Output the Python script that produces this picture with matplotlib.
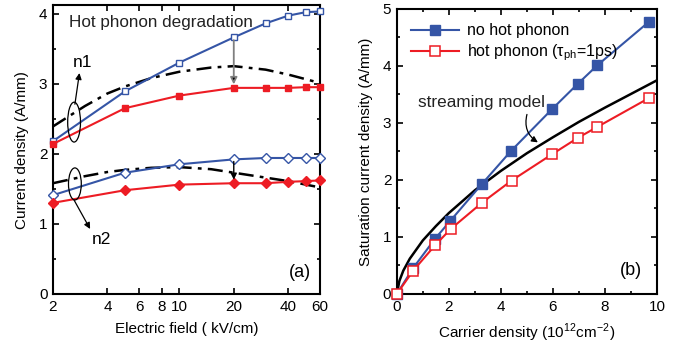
import matplotlib
matplotlib.use("Agg")
import matplotlib.pyplot as plt
from matplotlib.patches import Ellipse
from matplotlib.ticker import FixedLocator, NullLocator, MultipleLocator

plt.rcParams['font.family'] = ['Liberation Sans', 'DejaVu Sans']
plt.rcParams['mathtext.fontset'] = 'custom'
plt.rcParams['mathtext.rm'] = 'Liberation Sans'

BLUE = '#3555a6'
RED = '#ed1c24'

# ---------------- panel (a) data ----------------
E = [2, 5, 10, 20, 30, 40, 50, 60]
n1_nohp = [2.18, 2.89, 3.30, 3.66, 3.86, 3.97, 4.02, 4.03]
n1_hp = [2.14, 2.65, 2.83, 2.94, 2.94, 2.94, 2.95, 2.95]
n2_nohp = [1.41, 1.73, 1.85, 1.92, 1.94, 1.94, 1.94, 1.94]
n2_hp = [1.30, 1.48, 1.56, 1.58, 1.58, 1.60, 1.61, 1.62]
E_model = [2, 3, 4, 5, 7, 10, 15, 20, 30, 40, 60]
n1_model = [2.39, 2.68, 2.86, 2.96, 3.08, 3.17, 3.23, 3.25, 3.20, 3.13, 3.01]
n2_model = [1.58, 1.68, 1.74, 1.77, 1.80, 1.81, 1.78, 1.73, 1.66, 1.61, 1.52]
xticks_a = [2, 4, 6, 8, 10, 20, 40, 60]

# ---------------- panel (b) data ----------------
ns_nohp = [0, 0.62, 1.47, 2.05, 3.27, 4.39, 5.98, 6.96, 7.70, 9.70]
J_nohp = [0, 0.45, 0.97, 1.28, 1.93, 2.51, 3.25, 3.69, 4.01, 4.78]
ns_hp = [0, 0.63, 1.48, 2.07, 3.27, 4.41, 5.96, 6.96, 7.70, 9.70]
J_hp = [0, 0.41, 0.86, 1.14, 1.60, 1.99, 2.45, 2.74, 2.93, 3.44]
ns_stream = [0, 0.1, 0.25, 0.5, 1, 1.5, 2, 3, 4, 5, 6, 7, 8, 9, 10]
J_stream = [0, 0.23, 0.41, 0.62, 0.94, 1.19, 1.42, 1.82, 2.16, 2.47, 2.75, 3.02, 3.27, 3.51, 3.75]

fig = plt.figure(figsize=(6.76, 3.48), dpi=100)
axa = fig.add_axes([0.0784, 0.1552, 0.395, 0.830])
axb = fig.add_axes([0.587, 0.1552, 0.385, 0.819])

def style(ax):
    for s in ax.spines.values():
        s.set_linewidth(1.5)
    ax.tick_params(which='both', direction='in', top=True, right=True,
                   labelsize=11, width=1.2)
    ax.tick_params(which='major', length=4, pad=4)
    ax.tick_params(which='minor', length=2.5)

# ---- panel (a) ----
dd = (0, (6, 2.5, 1.5, 2.5))
axa.plot(E_model, n1_model, color='black', lw=1.8, ls=dd, zorder=2)
axa.plot(E_model, n2_model, color='black', lw=1.8, ls=dd, zorder=2)
axa.plot(E, n1_nohp, color=BLUE, lw=1.5, marker='s', ms=5, mfc='white', mec=BLUE, mew=1.0,
         zorder=3, clip_on=False)
axa.plot(E, n1_hp, color=RED, lw=1.5, marker='s', ms=5, mfc=RED, mec=RED, zorder=3, clip_on=False)
axa.plot(E, n2_nohp, color=BLUE, lw=1.5, marker='D', ms=4.6, mfc='white', mec=BLUE, mew=1.0,
         zorder=3, clip_on=False)
axa.plot(E, n2_hp, color=RED, lw=1.5, marker='D', ms=4.6, mfc=RED, mec=RED, zorder=3, clip_on=False)

axa.set_xscale('log')
axa.set_xlim(2, 60)
axa.set_ylim(0, 4.12)
axa.xaxis.set_major_locator(FixedLocator(xticks_a))
axa.xaxis.set_minor_locator(NullLocator())
axa.set_xticklabels([str(v) for v in xticks_a])
axa.yaxis.set_major_locator(MultipleLocator(1))
axa.yaxis.set_minor_locator(MultipleLocator(0.5))
style(axa)
axa.set_xlabel('Electric field ( kV/cm)', fontsize=11, labelpad=6)
axa.set_ylabel('Current density (A/mm)', fontsize=11, labelpad=7)

axa.text(0.06, 0.941, 'Hot phonon degradation', transform=axa.transAxes,
         fontsize=12.3, va='center', ha='left', color='#222222')
axa.text(0.925, 0.073, '(a)', transform=axa.transAxes, fontsize=13, ha='center', va='center')
axa.text(0.109, 0.80, 'n1', transform=axa.transAxes, fontsize=12.5, ha='center', va='center')
axa.text(0.18, 0.187, 'n2', transform=axa.transAxes, fontsize=12.5, ha='center', va='center')

axa.add_patch(Ellipse((0.079, 0.595), 0.048, 0.138, transform=axa.transAxes,
                      fill=False, ec='black', lw=0.9, zorder=4))
axa.add_patch(Ellipse((0.082, 0.381), 0.048, 0.111, transform=axa.transAxes,
                      fill=False, ec='black', lw=0.9, zorder=4))
axa.annotate('', xy=(0.099, 0.765), xytext=(0.082, 0.657),
             xycoords='axes fraction', textcoords='axes fraction',
             arrowprops=dict(arrowstyle='-|>', color='black', lw=0.9,
                             mutation_scale=9, shrinkA=0, shrinkB=0))
axa.annotate('', xy=(0.139, 0.225), xytext=(0.079, 0.325),
             xycoords='axes fraction', textcoords='axes fraction',
             arrowprops=dict(arrowstyle='-|>', color='black', lw=0.9,
                             mutation_scale=9, shrinkA=0, shrinkB=0))
# degradation arrows
axa.annotate('', xy=(20, 2.99), xytext=(20, 3.62),
             arrowprops=dict(arrowstyle='-|>', color='#7f7f7f', lw=1.3,
                             mutation_scale=10, shrinkA=0, shrinkB=0,
                             fc='black', ec='#7f7f7f'))
axa.annotate('', xy=(20, 1.63), xytext=(20, 1.89),
             arrowprops=dict(arrowstyle='-|>', color='black', lw=1.0,
                             mutation_scale=9, shrinkA=0, shrinkB=0))

# ---- panel (b) ----
axb.plot(ns_stream, J_stream, color='black', lw=1.8, zorder=2)
axb.plot(ns_nohp, J_nohp, color=BLUE, lw=1.5, marker='s', ms=6.5, mfc=BLUE, mec=BLUE,
         zorder=3, label='no hot phonon', clip_on=False)
axb.plot(ns_hp, J_hp, color=RED, lw=1.5, marker='s', ms=6.5, mfc='white', mec=RED, mew=1.1,
         zorder=4, label='hot phonon (τ$_\\mathregular{ph}$=1ps)', clip_on=False)
axb.set_xlim(0, 10)
axb.set_ylim(0, 5)
axb.xaxis.set_major_locator(MultipleLocator(2))
axb.xaxis.set_minor_locator(MultipleLocator(1))
axb.yaxis.set_major_locator(MultipleLocator(1))
axb.yaxis.set_minor_locator(MultipleLocator(0.5))
style(axb)
axb.set_xlabel('Carrier density (10$^\\mathregular{12}$cm$^\\mathregular{-2}$)', fontsize=11, labelpad=6)
axb.set_ylabel('Saturation current density (A/mm)', fontsize=11, labelpad=7)
leg = axb.legend(loc='upper left', bbox_to_anchor=(0.0, 1.0), frameon=False,
                 fontsize=11.5, handlelength=3.0, handletextpad=0.5,
                 borderaxespad=0.4, labelspacing=0.25, borderpad=0.5)
axb.text(0.8, 3.36, 'streaming model', fontsize=12.3, ha='left', va='center', color='#222222')
axb.annotate('', xy=(5.42, 2.66), xytext=(5.0, 3.15),
             arrowprops=dict(arrowstyle='-|>', color='black', lw=0.9,
                             mutation_scale=9, shrinkA=0, shrinkB=0,
                             connectionstyle='arc3,rad=0.35'))
axb.text(9.0, 0.42, '(b)', fontsize=13, ha='center', va='center')

fig.savefig('out.png', dpi=100)
